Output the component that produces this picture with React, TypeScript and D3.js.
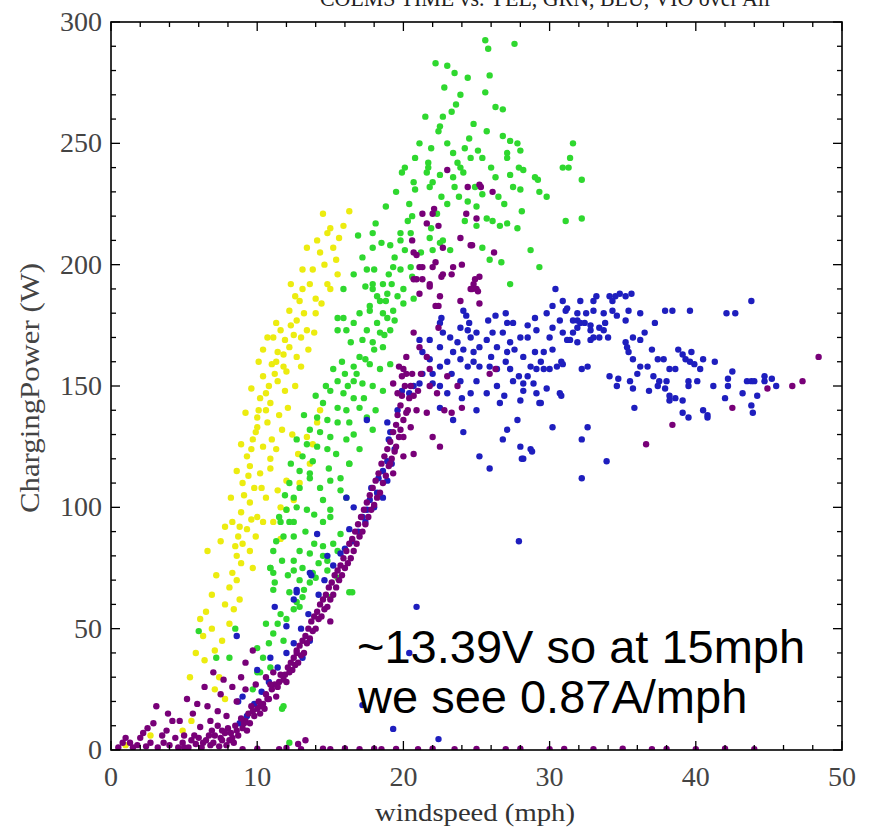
import React from "react";
import * as d3 from "d3";

type Pt = [number, number];

// tick values
const xTicks = [0, 10, 20, 30, 40, 50];
const yTicks = [0, 50, 100, 150, 200, 250, 300];

// YEL series
const yellowPts: Pt[] = [
  [16.3, 222], [15.9, 216], [14.5, 221], [14.8, 213], [15.2, 207], [13.4, 207], [14.3, 205], [13.8, 198],
  [15.5, 196], [14.8, 192], [13.1, 190], [12.6, 187], [12.2, 181], [12.7, 177], [11.6, 173], [13.4, 173],
  [11.9, 169], [11.1, 170], [12.2, 166], [10.4, 165], [11.4, 164], [11.0, 159], [11.8, 158], [10.4, 154],
  [11.4, 152], [10.2, 145], [10.9, 143], [10.0, 137], [10.7, 135], [10.0, 133], [9.7, 128], [10.4, 125],
  [9.3, 121], [9.5, 117], [10.2, 114], [9.0, 110], [9.5, 102], [10.0, 96], [10.4, 94], [9.3, 91],
  [9.0, 85], [9.5, 82], [8.6, 80], [8.3, 94], [6.6, 82], [8.3, 73], [8.1, 67], [11.4, 107],
  [11.6, 100], [11.1, 94], [11.6, 87], [12.0, 111], [13.4, 129], [13.8, 126], [14.3, 140], [14.1, 135],
  [13.6, 118], [12.9, 110], [12.5, 103], [12.0, 99], [7.1, 25], [7.8, 21], [6.4, 37], [7.6, 45],
  [6.1, 54], [8.8, 62], [7.1, 41], [8.1, 52], [2.7, 6], [1.0, 2], [12.9, 185], [13.6, 192],
  [12.3, 175], [11.3, 160], [10.8, 150], [11.9, 148], [10.6, 140], [11.5, 138], [12.4, 130], [12.8, 122],
  [11.0, 128], [10.9, 120], [9.8, 108], [10.6, 104], [8.9, 98], [9.9, 88], [8.7, 88], [12.0, 156],
  [12.7, 162], [13.0, 170], [14.0, 180], [14.6, 200], [15.0, 215], [15.6, 211], [4.9, 8], [5.5, 12],
  [7.4, 30], [8.4, 58], [14.0, 186], [13.2, 180], [12.5, 171], [11.8, 163], [11.2, 155], [10.6, 147],
  [10.1, 140], [9.9, 131], [9.6, 124], [9.4, 113], [9.1, 105], [8.8, 92], [8.5, 84], [8.9, 77],
  [9.6, 95], [10.3, 108], [10.9, 116], [11.3, 124], [11.7, 132], [12.1, 141], [12.6, 150], [13.0, 158],
  [13.5, 165], [13.9, 172], [14.4, 184], [15.0, 190], [15.4, 202], [14.1, 210], [13.1, 198], [12.3, 192],
  [11.3, 176], [10.7, 170], [10.1, 160], [9.6, 149], [9.2, 139], [8.9, 126], [8.6, 115], [8.2, 104],
  [7.8, 92], [7.5, 86], [7.2, 72], [6.9, 64], [6.5, 57], [6.3, 47], [5.8, 40], [5.4, 30],
  [6.9, 50], [7.8, 60], [8.6, 70], [9.7, 75],
];

// GRN series
const greenPts: Pt[] = [
  [25.6, 292.5], [27.6, 291], [25.8, 289], [22.2, 283], [23.0, 282], [23.5, 279], [24.4, 277], [25.9, 278],
  [22.8, 273], [25.6, 271], [26.3, 265], [26.8, 264], [23.6, 266], [23.3, 263], [22.7, 261], [21.5, 261],
  [22.5, 257], [22.4, 255], [25.7, 255], [24.5, 252], [21.1, 250], [26.8, 253], [27.3, 251], [27.8, 250],
  [27.1, 246], [28.0, 247], [25.1, 247], [23.4, 246], [27.1, 244], [25.4, 244], [23.7, 242], [20.8, 244],
  [23.9, 240], [21.7, 242], [21.7, 240], [20.1, 240], [19.9, 238], [21.6, 238], [24.1, 238], [22.5, 237],
  [26.3, 236], [27.3, 237], [28.2, 239], [29.0, 236], [29.2, 235], [22.0, 234], [21.8, 232], [20.7, 234],
  [23.5, 232], [24.9, 232], [27.5, 232], [28.0, 231], [29.3, 230], [29.8, 228], [25.4, 229], [20.8, 231],
  [20.4, 225], [23.0, 225], [24.4, 226], [25.0, 224], [26.9, 225], [28.1, 222], [25.7, 219], [26.1, 218],
  [26.6, 216], [27.1, 217], [27.8, 215], [25.0, 216], [24.2, 218], [22.3, 221], [20.3, 218], [18.1, 217],
  [17.9, 213], [18.5, 209], [19.1, 208], [19.8, 213], [20.5, 213], [19.8, 210], [21.8, 211], [22.7, 210],
  [23.2, 206], [25.4, 207], [25.9, 202], [26.7, 201], [28.7, 206], [29.3, 199], [27.3, 192], [19.4, 203],
  [20.1, 206], [20.5, 199], [19.3, 199], [19.8, 198], [22.0, 206], [22.5, 209], [17.4, 191], [17.9, 192],
  [18.6, 192], [19.2, 192], [18.2, 187], [18.8, 185], [19.6, 187], [20.0, 184], [17.7, 183], [18.6, 180],
  [19.3, 181], [20.7, 186], [31.6, 250], [31.4, 244], [30.9, 240], [31.3, 240], [32.2, 235], [31.1, 218],
  [32.2, 219], [17.9, 190], [18.9, 188], [18.4, 185], [17.7, 181], [18.9, 178], [18.2, 176], [17.5, 173],
  [18.4, 172], [19.1, 173], [17.2, 169], [17.9, 168], [18.6, 166], [16.6, 176], [15.9, 178], [16.1, 173],
  [15.5, 173], [17.0, 162], [17.7, 159], [18.4, 157], [19.1, 159], [16.6, 158], [16.0, 155], [16.6, 152],
  [17.2, 151], [17.9, 150], [18.6, 148], [15.5, 152], [15.0, 148], [15.9, 147], [16.6, 145], [14.5, 143],
  [15.5, 141], [16.1, 140], [17.0, 141], [14.1, 137], [14.8, 136], [15.5, 135], [16.3, 135], [13.6, 132],
  [14.3, 131], [15.0, 129], [13.4, 126], [14.1, 125], [14.8, 124], [13.1, 121], [13.8, 119], [12.9, 115],
  [13.6, 114], [12.2, 110], [12.9, 108], [12.5, 104], [12.0, 99], [12.7, 100], [11.6, 94], [12.2, 94],
  [11.8, 88], [12.5, 88], [11.1, 82], [10.9, 75], [11.2, 69], [11.1, 66], [14.5, 94], [15.0, 99],
  [16.1, 104], [15.7, 112], [16.3, 118], [17.0, 124], [17.9, 132], [17.5, 137], [15.5, 82], [14.5, 80],
  [14.8, 74], [14.0, 71], [15.5, 71], [15.0, 63], [12.5, 78], [12.5, 74], [16.3, 65], [11.1, 73],
  [15.5, 178], [15.9, 190], [16.6, 196], [17.2, 203], [17.9, 207], [17.5, 198], [16.1, 128], [13.6, 112],
  [15.0, 111], [16.3, 118], [15.7, 107], [14.5, 103], [13.4, 99], [12.5, 94], [15.0, 96], [15.7, 89],
  [15.2, 85], [14.5, 84], [13.6, 81], [13.1, 75], [13.8, 73], [12.9, 70], [14.8, 78], [12.2, 65],
  [11.6, 56], [12.0, 54], [12.7, 61], [13.1, 63], [11.1, 48], [11.8, 45], [10.4, 38], [10.2, 32],
  [10.9, 34], [9.7, 25], [11.8, 18], [6.0, 49], [8.5, 50], [8.1, 38], [10.0, 42], [10.9, 75],
  [11.7, 17], [12.2, 3], [16.5, 65], [12.9, 59], [13.6, 69], [10.0, 32], [7.2, 38],
  [16.2, 150], [16.8, 155], [17.4, 161], [18.0, 165], [18.7, 171], [19.4, 177], [20.0, 190], [20.6, 195],
  [21.2, 205], [21.9, 215], [22.6, 228], [23.4, 236], [24.2, 248], [24.8, 258], [23.9, 270], [21.9, 248],
  [20.6, 220], [19.0, 196], [18.0, 198], [17.0, 180], [16.4, 168], [15.8, 160], [15.2, 157], [14.7, 150],
  [14.0, 146], [13.2, 138], [12.7, 128], [12.3, 118], [11.9, 105], [11.5, 96], [11.3, 86], [11.7, 78],
  [12.1, 72], [12.9, 82], [13.3, 90], [13.9, 97], [14.3, 108], [14.9, 116], [15.4, 122], [16.6, 130],
  [17.3, 145], [18.1, 140], [13.9, 85], [14.2, 77], [13.2, 66], [12.5, 58], [11.4, 52], [10.8, 44],
  [10.6, 52], [16.9, 212], [18.8, 224], [19.5, 230], [23.0, 250], [24.6, 244], [26.0, 240], [27.9, 240],
  [26.5, 228], [23.8, 228],
];

// BLU series
const bluePts: Pt[] = [
  [17.5, 136], [18.9, 135], [18.9, 119], [18.9, 111], [18.2, 106], [17.5, 99], [17.2, 96], [17.7, 103],
  [16.1, 104], [16.6, 100], [16.3, 91], [15.7, 81], [14.8, 80], [13.6, 73], [12.7, 66], [12.5, 62],
  [11.2, 59], [14.1, 89], [12.0, 51], [10.9, 38], [10.0, 33], [13.6, 45], [13.1, 38], [18.6, 115],
  [19.1, 131], [20.9, 59], [20.4, 40], [17.2, 18.5], [19.3, 8.7], [22.4, 4.5], [27.9, 86], [12.7, 65],
  [13.7, 72], [8.6, 47], [8.7, 20], [9.0, 22], [17.8, 108], [18.3, 112], [18.0, 100], [17.4, 94],
  [16.9, 90], [16.5, 86], [16.0, 83], [15.2, 76], [14.6, 70], [14.2, 64], [13.5, 56], [13.0, 50],
  [12.5, 44], [12.0, 40], [11.4, 34], [10.8, 28], [10.3, 24], [9.8, 19], [9.3, 14], [8.8, 11],
  [19.4, 124], [19.0, 128], [19.6, 140], [19.9, 148], [19.2, 118], [18.6, 104],
  [24.1, 181], [24.3, 179], [23.9, 174], [24.4, 173], [24.6, 170], [25.0, 172], [25.2, 166], [25.7, 169],
  [26.1, 172], [23.7, 168], [23.2, 170], [22.7, 172], [22.5, 166], [23.4, 164], [24.1, 165], [24.8, 164],
  [25.8, 177], [26.3, 179], [27.1, 176], [27.5, 176], [26.8, 172], [26.4, 166], [27.3, 168], [27.6, 165],
  [27.1, 164], [28.0, 170], [28.5, 170], [28.5, 175], [29.8, 180], [30.2, 183], [30.9, 185], [31.1, 181],
  [31.9, 177], [30.7, 177], [30.2, 174], [30.0, 170], [29.1, 173], [29.6, 164], [30.2, 165], [29.0, 164],
  [28.7, 158], [29.1, 157], [29.6, 157], [30.0, 157], [30.5, 158], [30.8, 160], [28.5, 154], [28.9, 151],
  [28.2, 151], [29.8, 149], [28.2, 148], [29.1, 147], [27.5, 152], [27.3, 157], [26.4, 157], [25.9, 158],
  [25.2, 158], [24.4, 158], [23.9, 161], [23.3, 155], [22.5, 158], [21.8, 161], [21.3, 164], [21.3, 155],
  [21.1, 169], [21.8, 169], [22.5, 176], [22.6, 178], [20.7, 150], [20.4, 147], [21.1, 151], [22.0, 151],
  [22.5, 150], [23.9, 152], [25.0, 152], [24.6, 147], [25.7, 147], [26.4, 150], [26.6, 143], [25.0, 140],
  [28.0, 144], [27.8, 136], [29.3, 143], [30.2, 133], [27.1, 132], [26.8, 128], [28.0, 125], [28.7, 124],
  [28.2, 120], [25.2, 121], [25.9, 116], [24.1, 131], [23.4, 136], [22.5, 141], [30.7, 147], [31.2, 169],
  [31.6, 172], [33.2, 187], [34.1, 187], [34.5, 187], [34.8, 188], [35.2, 187], [35.6, 188], [34.3, 185],
  [33.0, 185], [32.1, 185], [31.2, 182], [31.9, 180], [33.0, 181], [33.7, 180], [34.3, 181], [34.6, 179],
  [35.4, 181], [36.2, 180], [35.2, 177], [37.2, 176], [37.9, 181], [38.4, 181], [39.6, 181], [42.1, 180],
  [42.7, 180], [43.8, 185], [31.6, 177], [32.1, 176], [32.4, 176], [32.8, 175], [31.9, 174], [32.8, 173],
  [30.9, 172], [31.4, 169], [31.9, 168], [32.8, 169], [33.4, 174], [33.7, 173], [33.4, 170], [34.0, 170],
  [33.0, 170], [35.2, 168], [35.3, 166], [35.4, 164], [36.2, 169], [35.7, 170], [35.7, 161], [36.2, 158],
  [36.0, 155], [35.5, 152], [35.7, 149], [36.7, 158], [34.1, 154], [34.7, 153], [34.6, 150], [32.2, 157],
  [32.6, 158], [30.9, 159], [30.8, 146], [37.4, 161], [37.8, 161], [38.2, 157], [38.6, 157], [37.1, 154],
  [37.5, 152], [38.0, 152], [37.4, 150], [37.9, 149], [38.2, 146], [38.6, 145], [38.2, 144], [39.1, 144],
  [39.1, 163], [39.3, 161], [39.7, 164], [39.6, 160], [39.9, 159], [40.5, 161], [40.3, 157], [41.3, 160],
  [39.5, 152], [39.5, 150], [40.1, 152], [39.1, 139], [39.5, 137], [40.5, 140], [40.8, 138], [40.8, 137],
  [42.5, 156], [42.2, 153], [42.2, 150], [43.5, 152], [43.8, 152], [44.0, 152], [44.7, 154], [44.7, 152],
  [43.2, 147], [43.8, 142], [43.9, 139], [35.8, 141], [32.6, 133], [32.2, 128], [33.9, 119], [32.2, 112],
  [28.8, 123], [28.1, 120], [29.4, 143], [23.0, 160], [24.8, 160], [26.0, 162], [27.0, 160], [28.2, 162],
  [29.4, 160], [27.9, 154], [26.9, 146], [24.0, 145], [23.0, 147], [22.0, 155], [24.5, 176], [27.0, 180],
  [29.0, 178], [30.4, 190], [32.5, 180], [33.8, 176], [36.5, 172], [37.0, 165], [38.8, 165], [36.8, 148],
  [41.2, 150], [42.0, 145], [44.2, 146], [45.5, 150], [45.2, 153],
];

// VIO series
const purplePts: Pt[] = [
  [0.8, 3], [1.3, 3], [2.0, 5], [2.9, 11], [3.1, 18], [2.2, 7], [3.8, 8], [4.2, 12],
  [4.7, 12], [5.6, 15], [5.2, 21], [6.4, 26], [6.1, 9.5], [7.0, 32], [7.7, 29], [7.3, 16],
  [7.9, 14], [6.6, 18], [8.6, 20], [4.9, 3], [3.6, 3], [2.7, 3], [1.8, 2], [9.2, 36],
  [9.7, 41], [9.2, 25], [11.1, 32], [10.2, 15], [15.0, 53], [12.7, 40], [0.5, 1], [1.5, 1],
  [2.4, 1.5], [3.2, 1], [4.0, 2], [4.4, 5], [5.0, 6], [5.3, 1], [5.8, 2.5], [6.2, 1],
  [6.5, 4], [6.8, 2], [7.1, 6], [7.4, 1.5], [7.6, 4], [7.9, 2], [8.2, 7], [8.4, 3],
  [6.0, 5], [5.5, 4], [6.9, 8], [7.3, 10], [7.6, 8], [8.0, 9], [8.3, 5], [8.7, 6],
  [9.0, 9], [9.2, 12], [9.5, 11], [9.4, 15], [9.8, 14], [10.0, 17], [10.1, 20], [10.4, 19],
  [10.6, 23], [10.8, 21], [11.0, 25], [11.2, 27], [11.5, 28], [11.6, 31], [11.9, 31], [12.1, 34],
  [12.3, 36], [12.5, 38], [12.7, 41], [12.9, 43], [13.1, 45], [13.3, 47], [13.5, 50], [13.7, 53],
  [13.9, 55], [14.1, 57], [14.3, 60], [14.5, 62], [14.7, 64], [14.9, 67], [15.1, 69], [15.3, 72],
  [15.5, 74], [15.7, 76], [15.9, 79], [16.1, 82], [16.3, 85], [16.5, 87], [16.7, 90], [16.9, 93],
  [17.1, 96], [17.3, 99], [17.5, 102], [17.7, 105], [17.9, 108], [18.1, 111], [18.3, 114], [18.5, 118],
  [18.7, 121], [18.9, 124], [19.1, 127], [19.3, 131], [19.5, 134], [19.6, 138], [19.8, 142], [19.9, 146],
  [20.1, 150], [20.2, 155], [10.5, 17], [11.3, 22], [12.0, 28], [12.8, 36], [13.6, 46], [14.4, 55],
  [15.2, 64], [16.0, 75], [16.8, 85], [17.6, 96], [18.4, 106], [19.2, 120], [19.8, 132], [9.6, 18],
  [10.9, 27], [12.4, 33], [13.2, 40], [14.0, 50], [14.8, 59], [15.6, 70], [16.4, 79], [17.2, 90],
  [18.0, 101], [18.8, 113], [19.5, 125], [20.3, 140],
  [8.1, 4], [8.6, 8], [9.1, 11], [9.7, 16], [10.2, 18], [10.7, 21], [11.4, 26], [11.8, 29],
  [12.2, 32], [12.6, 35], [13.0, 39], [13.4, 44], [13.8, 49], [14.2, 54], [14.6, 58], [15.0, 62],
  [15.4, 67], [15.8, 72], [16.2, 77], [16.6, 82], [17.0, 88], [17.4, 93], [17.8, 99], [18.2, 104],
  [18.6, 110], [19.0, 117], [19.4, 123], [19.7, 129], [20.0, 136], [6.3, 3], [6.7, 6], [7.0, 3],
  [7.5, 5], [7.8, 7], [8.5, 10], [8.9, 13], [9.3, 8], [5.0, 1], [5.7, 6], [4.6, 1],
  [3.5, 6], [2.5, 9], [1.0, 5], [3.9, 15], [5.9, 19], [6.8, 12], [7.5, 23], [8.3, 26],
  [8.9, 30], [9.9, 27], [10.6, 30], [20.4, 145], [20.5, 150], [20.6, 155], [21.0, 148], [21.2, 155],
  [19.7, 158], [20.2, 162],
  [20.7, 194], [21.3, 194], [21.3, 221], [22.0, 221], [21.6, 217], [22.4, 216], [24.4, 232], [25.2, 233],
  [23.9, 211], [24.6, 208], [20.9, 204], [21.3, 199], [22.2, 201], [23.4, 199], [24.0, 200], [22.6, 195],
  [23.3, 196], [21.8, 191], [22.5, 187], [22.4, 183], [24.6, 190], [25.0, 190], [24.9, 194], [25.2, 195],
  [23.9, 185], [25.2, 184], [22.4, 174], [20.7, 172], [21.1, 166], [21.6, 162], [20.0, 157], [19.9, 154],
  [21.8, 157], [22.3, 147], [21.8, 150], [20.7, 146], [20.9, 140], [21.6, 139], [22.8, 140], [23.3, 139],
  [24.0, 141], [25.9, 155], [26.3, 157], [23.0, 154], [23.7, 150], [20.5, 133], [20.0, 129], [20.2, 139],
  [19.3, 151], [19.6, 147], [22.0, 129], [22.5, 125], [20.7, 122], [20.0, 121], [19.1, 118], [19.3, 114],
  [23.0, 239], [22.1, 223], [24.3, 221], [25.0, 219], [25.3, 232], [26.1, 230], [26.2, 205], [24.7, 208],
  [22.7, 207], [20.6, 210], [20.7, 205], [21.1, 199], [20.9, 194], [21.8, 192], [22.0, 199], [22.7, 196],
  [24.8, 192], [24.7, 190], [25.1, 189], [22.2, 183], [21.1, 188],
  [42.5, 141], [44.9, 149], [46.6, 150], [47.3, 152], [48.4, 162], [38.4, 134], [36.6, 126],
  [9, 0.3], [10, 0.5], [11.5, 0.3], [12, 0.8], [13, 0.3], [14.5, 0.5], [15, 0.3], [16, 0.6],
  [17, 0.3], [18, 0.5], [18.5, 0.3], [19.5, 0.4], [21, 0.3], [22, 0.5], [23.5, 0.3], [25, 0.4],
  [27, 0.3], [28, 0.5], [30, 0.3], [31, 0.4], [33, 0.3], [35, 0.5], [37, 0.3], [38, 0.4],
  [40, 0.3], [42, 0.5], [44, 0.3], [12.8, 2.5], [13.3, 4],
];

const series = [
  { name: "YEL", pts: yellowPts, color: "#ecec10" },
  { name: "GRN", pts: greenPts, color: "#2fd82f" },
  { name: "BLU", pts: bluePts, color: "#1e1ebe" },
  { name: "VIO", pts: purplePts, color: "#780078" },
];

const W = 869;
const H = 835;
const margin = { top: 22, right: 27, bottom: 85, left: 111 };

export default function App() {
  const x = d3.scaleLinear().domain([0, 50]).range([margin.left, W - margin.right]);
  const y = d3.scaleLinear().domain([0, 300]).range([H - margin.bottom, margin.top]);
  const x0 = margin.left;
  const x1 = W - margin.right;
  const y0 = H - margin.bottom;
  const y1 = margin.top;

  const xMinor = d3.range(0, 51, 2);
  const yMinor = d3.range(0, 301, 10);

  return (
    <svg
      width={W}
      height={H}
      style={{ position: "absolute", left: 0, top: 0, background: "#fff" }}
    >
      <defs>
        <clipPath id="plot">
          <rect x={x0} y={y1} width={x1 - x0} height={y0 - y1} />
        </clipPath>
      </defs>

      {/* title, cut off by the top edge as in the original */}
      <text
        x={545}
        y={6}
        textAnchor="middle"
        fontFamily="Liberation Serif"
        fontSize={24}
        textLength={450}
        lengthAdjust="spacingAndGlyphs"
        fill="#222"
      >
        COLMS TIME vs. YEL, GRN, BLU, VIO over All
      </text>

      <g clipPath="url(#plot)">
        {series.map((s) => (
          <g key={s.name}>
            {s.pts.map((d, i) => (
              <circle key={i} cx={x(d[0])} cy={y(d[1])} r={3.2} fill={s.color} />
            ))}
          </g>
        ))}
      </g>

      {/* frame */}
      <rect x={x0} y={y1} width={x1 - x0} height={y0 - y1} fill="none" stroke="#000" strokeWidth={1.6} />

      {/* ticks on all four sides */}
      {xMinor.map((v) => {
        const len = v % 10 === 0 ? 9 : 5;
        return (
          <g key={"xt" + v} stroke="#000" strokeWidth={1.3}>
            <line x1={x(v)} x2={x(v)} y1={y0} y2={y0 - len} />
            <line x1={x(v)} x2={x(v)} y1={y1} y2={y1 + len} />
          </g>
        );
      })}
      {yMinor.map((v) => {
        const len = v % 50 === 0 ? 9 : 5;
        return (
          <g key={"yt" + v} stroke="#000" strokeWidth={1.3}>
            <line x1={x0} x2={x0 + len} y1={y(v)} y2={y(v)} />
            <line x1={x1} x2={x1 - len} y1={y(v)} y2={y(v)} />
          </g>
        );
      })}

      {xTicks.map((v) => (
        <text
          key={"xl" + v}
          x={x(v)}
          y={786}
          textAnchor="middle"
          fontFamily="Liberation Serif"
          fontSize={28}
          fill="#444"
        >
          {v}
        </text>
      ))}
      {yTicks.map((v) => (
        <text
          key={"yl" + v}
          x={102}
          y={y(v) + 9}
          textAnchor="end"
          fontFamily="Liberation Serif"
          fontSize={28}
          fill="#444"
        >
          {v}
        </text>
      ))}

      <text
        x={475}
        y={821}
        textAnchor="middle"
        fontFamily="Liberation Serif"
        fontSize={26}
        textLength={200}
        lengthAdjust="spacingAndGlyphs"
        fill="#333"
      >
        windspeed (mph)
      </text>
      <text
        transform="translate(39,388) rotate(-90)"
        textAnchor="middle"
        fontFamily="Liberation Serif"
        fontSize={28}
        textLength={250}
        lengthAdjust="spacingAndGlyphs"
        fill="#444"
      >
        ChargingPower (W)
      </text>

      <text x={357} y={663} fontFamily="Liberation Sans" fontSize={47} fill="#000">
        ~13.39V so at 15mph
      </text>
      <text x={358} y={713} fontFamily="Liberation Sans" fontSize={47} fill="#000">
        we see 0.87A/mph
      </text>
    </svg>
  );
}
